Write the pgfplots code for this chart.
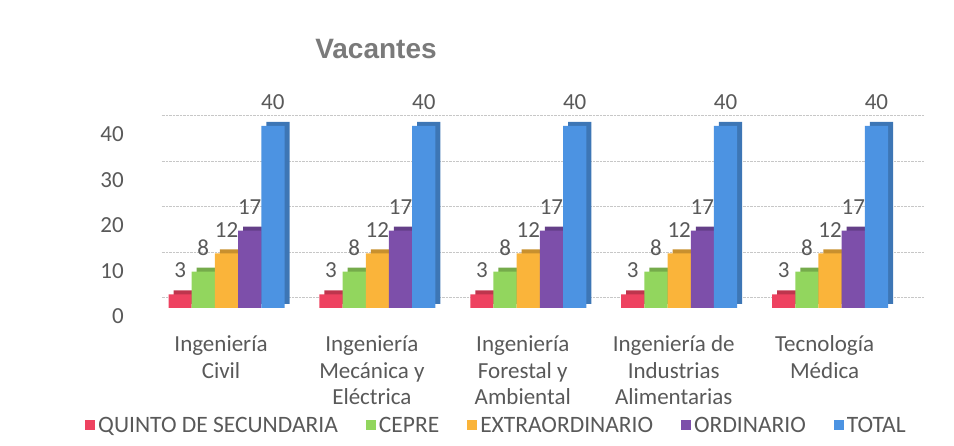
\documentclass[border=0pt]{standalone}
\usepackage{fontspec}
\setmainfont{Carlito}
\newfontfamily\titlefont{Liberation Sans}
\usepackage{pgfplots}
\usepackage{pgfplotstable}
\pgfplotsset{compat=1.18}
\definecolor{cRed}{RGB}{238,66,96}
\definecolor{cGreen}{RGB}{146,214,94}
\definecolor{cOrange}{RGB}{250,180,58}
\definecolor{cPurple}{RGB}{125,79,170}
\definecolor{cBlue}{RGB}{76,147,226}
\definecolor{labelgray}{RGB}{89,89,89}
\definecolor{titlegray}{RGB}{122,122,122}
\pgfplotstableread{
x quinto cepre extra ord total
0 3 8 12 17 40
1 3 8 12 17 40
2 3 8 12 17 40
3 3 8 12 17 40
4 3 8 12 17 40
}\datatable
\begin{document}
\begin{tikzpicture}
\path[use as bounding box] (0,0) rectangle (954pt,446pt);
\begin{axis}[
  at={(158.6pt,138pt)}, anchor=south west,
  scale only axis, width=762pt, height=182pt,
  xmin=-0.45, xmax=4.6, ymin=0, ymax=40,
  clip=false,
  axis line style={draw=none}, tick style={draw=none},
  major tick length=0pt,
  xtick={0,1,2,3,4},
  xticklabels={{Ingeniería\\Civil},{Ingeniería\\Mecánica y\\Eléctrica},{Ingeniería\\Forestal y\\Ambiental},{Ingeniería de\\Industrias\\Alimentarias},{Tecnología\\Médica}},
  ytick={0,10,20,30,40},
  /pgf/number format/assume math mode=true,
  ticklabel style={font=\fontsize{23}{26.5}\selectfont, text=labelgray},
  xticklabel style={align=center, anchor=north, inner sep=0pt, yshift=-27.5pt, xshift=-5.5pt},
  yticklabel style={anchor=east, inner sep=0pt, xshift=-34.6pt, yshift=-8.5pt},
  ymajorgrids,
  major grid style={densely dotted, black!22, line width=0.8pt, yshift=10.5pt, xshift=3pt},
  legend columns=5,
  legend image code/.code={\fill[#1] (0pt,-5pt) rectangle (10pt,5pt);},
  legend style={at={(axis description cs:0.4421,-0.5995)}, anchor=north, draw=none, fill=none,
    inner sep=0pt, outer sep=0pt,
    /tikz/every even column/.append style={column sep=28pt},
    /tikz/every odd column/.append style={column sep=3pt},
    nodes={inner sep=0pt, font=\fontsize{23.5}{26}\selectfont, text=labelgray}},
  every node near coord/.append style={font=\fontsize{23}{26}\selectfont, text=labelgray},
]
% depth (back) faces
\addplot[ybar, bar width=23.2pt, bar shift=-46.4pt, fill=cRed!80!black, draw=none, xshift=5pt, yshift=4pt, forget plot] table[x=x,y=quinto]{\datatable};
\addplot[ybar, bar width=23.2pt, bar shift=-23.2pt, fill=cGreen!80!black, draw=none, xshift=5pt, yshift=4pt, forget plot] table[x=x,y=cepre]{\datatable};
\addplot[ybar, bar width=23.2pt, bar shift=0pt, fill=cOrange!80!black, draw=none, xshift=5pt, yshift=4pt, forget plot] table[x=x,y=extra]{\datatable};
\addplot[ybar, bar width=23.2pt, bar shift=23.2pt, fill=cPurple!80!black, draw=none, xshift=5pt, yshift=4pt, forget plot] table[x=x,y=ord]{\datatable};
\addplot[ybar, bar width=23.2pt, bar shift=46.4pt, fill=cBlue!80!black, draw=none, xshift=5pt, yshift=4pt, forget plot] table[x=x,y=total]{\datatable};
% front faces
\addplot[ybar, bar width=23.2pt, bar shift=-46.4pt, fill=cRed, draw=none, nodes near coords, nodes near coords style={anchor=south, inner sep=0pt, yshift=16pt, xshift=-46.4pt}] table[x=x,y=quinto]{\datatable};
\addlegendentry{QUINTO DE SECUNDARIA}
\addplot[ybar, bar width=23.2pt, bar shift=-23.2pt, fill=cGreen, draw=none, nodes near coords, nodes near coords style={anchor=south, inner sep=0pt, yshift=16pt, xshift=-23.2pt}] table[x=x,y=cepre]{\datatable};
\addlegendentry{CEPRE}
\addplot[ybar, bar width=23.2pt, bar shift=0pt, fill=cOrange, draw=none, nodes near coords, nodes near coords style={anchor=south, inner sep=0pt, yshift=16pt, xshift=0pt}] table[x=x,y=extra]{\datatable};
\addlegendentry{EXTRAORDINARIO}
\addplot[ybar, bar width=23.2pt, bar shift=23.2pt, fill=cPurple, draw=none, nodes near coords, nodes near coords style={anchor=south, inner sep=0pt, yshift=16pt, xshift=23.2pt}] table[x=x,y=ord]{\datatable};
\addlegendentry{ORDINARIO}
\addplot[ybar, bar width=23.2pt, bar shift=46.4pt, fill=cBlue, draw=none, nodes near coords, nodes near coords style={anchor=south, inner sep=0pt, yshift=16pt, xshift=46.4pt}] table[x=x,y=total]{\datatable};
\addlegendentry{TOTAL}
\node[font=\titlefont\bfseries\fontsize{28}{30}\selectfont, text=titlegray, anchor=base] at (axis description cs:0.2853,1.3736) {Vacantes};
\end{axis}
\end{tikzpicture}
\end{document}
